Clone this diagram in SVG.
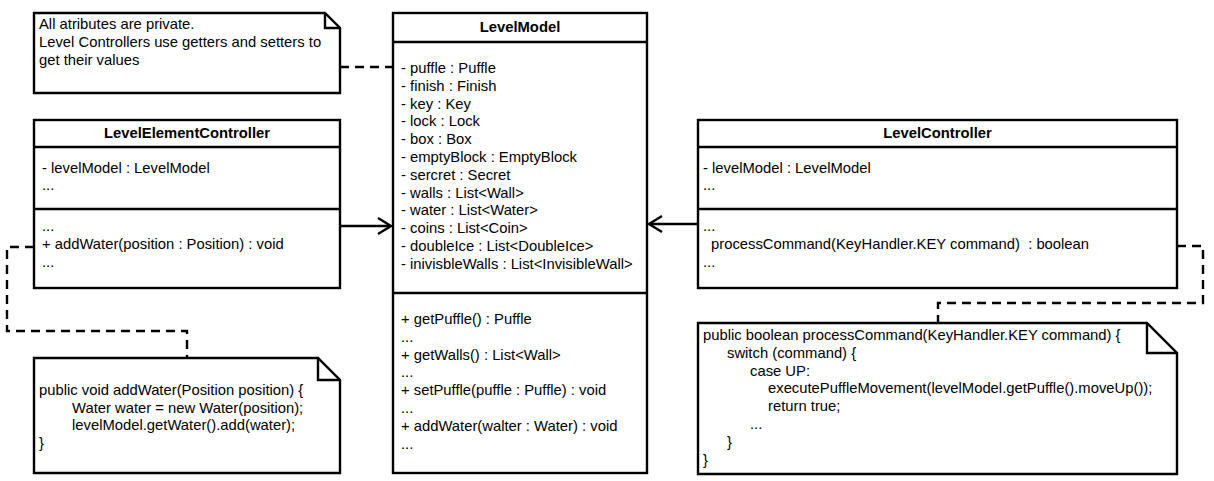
<svg xmlns="http://www.w3.org/2000/svg" width="1214" height="481" viewBox="0 0 1214 481">
<style>
  .box { fill: #ffffff; stroke: #000000; stroke-width: 2.4; }
  .sep { fill: none; stroke: #000000; stroke-width: 2.4; }
  .t { font-family: "Liberation Sans", Arial, sans-serif; font-size: 14.8px; fill: #000000; }
  .title { font-family: "Liberation Sans", Arial, sans-serif; font-size: 14.8px; font-weight: bold; fill: #000000; text-anchor: middle; }
  .dash { fill: none; stroke: #000000; stroke-width: 2.4; stroke-dasharray: 9 6; }
  .assoc { fill: none; stroke: #000000; stroke-width: 2.4; }
</style>
<defs>
  <marker id="open" markerUnits="userSpaceOnUse" markerWidth="20" markerHeight="20" viewBox="-16 -10 20 20" refX="0" refY="0" orient="auto">
    <path d="M -13 -8 L 0 0 L -13 8" fill="none" stroke="#000000" stroke-width="2.4"/>
  </marker>
</defs>
<rect width="1214" height="481" fill="#ffffff"/>

<g id="connectors">
  <path class="dash" d="M340 67 H393"/>
  <path class="dash" d="M34 247 H7 V331 H187 V358"/>
  <path class="dash" d="M1177 246 H1203 V303 H938 V323"/>
  <path class="assoc" d="M340 226 H391" marker-end="url(#open)"/>
  <path class="assoc" d="M698 224 H649" marker-end="url(#open)"/>
</g>

<g id="note-private">
  <path class="box" d="M34 13 H325 L340 28 V93 H34 Z"/>
  <path class="sep" d="M325 13 V28 H340"/>
  <text class="t" x="39" y="28.5">All atributes are private.</text>
  <text class="t" x="39" y="46.5">Level Controllers use getters and setters to</text>
  <text class="t" x="39" y="64.5">get their values</text>
</g>

<g id="LevelModel">
  <rect class="box" x="393" y="13" width="254" height="460"/>
  <path class="sep" d="M393 42 H647 M393 293 H647"/>
  <text class="title" x="520" y="32">LevelModel</text>
  <text class="t" x="401" y="73">- puffle : Puffle</text>
  <text class="t" x="401" y="90.8">- finish : Finish</text>
  <text class="t" x="401" y="108.6">- key : Key</text>
  <text class="t" x="401" y="126.4">- lock : Lock</text>
  <text class="t" x="401" y="144.2">- box : Box</text>
  <text class="t" x="401" y="162">- emptyBlock : EmptyBlock</text>
  <text class="t" x="401" y="179.8">- sercret : Secret</text>
  <text class="t" x="401" y="197.6">- walls : List&lt;Wall&gt;</text>
  <text class="t" x="401" y="215.4">- water : List&lt;Water&gt;</text>
  <text class="t" x="401" y="233.2">- coins : List&lt;Coin&gt;</text>
  <text class="t" x="401" y="251">- doubleIce : List&lt;DoubleIce&gt;</text>
  <text class="t" x="401" y="268.8">- inivisbleWalls : List&lt;InvisibleWall&gt;</text>
  <text class="t" x="401" y="324">+ getPuffle() : Puffle</text>
  <text class="t" x="401" y="341.8">...</text>
  <text class="t" x="401" y="359.6">+ getWalls() : List&lt;Wall&gt;</text>
  <text class="t" x="401" y="377.4">...</text>
  <text class="t" x="401" y="395.2">+ setPuffle(puffle : Puffle) : void</text>
  <text class="t" x="401" y="413">...</text>
  <text class="t" x="401" y="430.8">+ addWater(walter : Water) : void</text>
  <text class="t" x="401" y="448.6">...</text>
</g>

<g id="LevelElementController">
  <rect class="box" x="34" y="120" width="306" height="168"/>
  <path class="sep" d="M34 147 H340 M34 209 H340"/>
  <text class="title" x="187" y="138">LevelElementController</text>
  <text class="t" x="42" y="172.5">- levelModel : LevelModel</text>
  <text class="t" x="42" y="190.3">...</text>
  <text class="t" x="42" y="231.2">...</text>
  <text class="t" x="42" y="249">+ addWater(position : Position) : void</text>
  <text class="t" x="42" y="266.8">...</text>
</g>

<g id="LevelController">
  <rect class="box" x="698" y="120" width="479" height="168"/>
  <path class="sep" d="M698 147 H1177 M698 209 H1177"/>
  <text class="title" x="937.5" y="138">LevelController</text>
  <text class="t" x="703" y="172.5">- levelModel : LevelModel</text>
  <text class="t" x="703" y="190.3">...</text>
  <text class="t" x="703" y="231.2">...</text>
  <text class="t" x="711" y="249">processCommand(KeyHandler.KEY command)&#160; : boolean</text>
  <text class="t" x="703" y="266.8">...</text>
</g>

<g id="note-addWater">
  <path class="box" d="M34 358 H318 L340 380 V473 H34 Z"/>
  <path class="sep" d="M318 358 V380 H340"/>
  <text class="t" x="39" y="395">public void addWater(Position position) {</text>
  <text class="t" x="72" y="412.6">Water water = new Water(position);</text>
  <text class="t" x="72" y="430.2">levelModel.getWater().add(water);</text>
  <text class="t" x="39" y="447.8">}</text>
</g>

<g id="note-processCommand">
  <path class="box" d="M698 323 H1147 L1177 353 V474 H698 Z"/>
  <path class="sep" d="M1147 323 V353 H1177"/>
  <text class="t" x="703" y="340">public boolean processCommand(KeyHandler.KEY command) {</text>
  <text class="t" x="727" y="357.8">switch (command) {</text>
  <text class="t" x="750" y="375.6">case UP:</text>
  <text class="t" x="768" y="393.4">executePuffleMovement(levelModel.getPuffle().moveUp());</text>
  <text class="t" x="768" y="411.2">return true;</text>
  <text class="t" x="750" y="429">...</text>
  <text class="t" x="727" y="446.8">}</text>
  <text class="t" x="703" y="464.6">}</text>
</g>
</svg>
